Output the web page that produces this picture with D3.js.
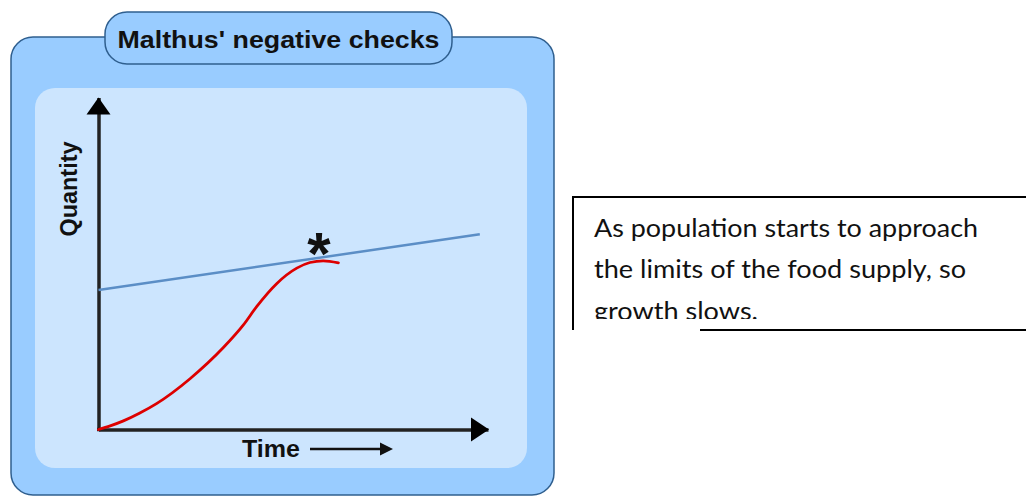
<!DOCTYPE html>
<html>
<head>
<meta charset="utf-8">
<script src="https://cdn.jsdelivr.net/npm/d3@7"></script>
<style>
  html, body { margin: 0; padding: 0; background: #ffffff; }
  svg { display: block; }
</style>
</head>
<body>
<svg id="chart" width="1026" height="497"></svg>
<script>
// ---- data ----
const titleText = "Malthus' negative checks";
const xLabel = "Time";
const yLabel = "Quantity";
const noteLines = ["As population starts to approach", "the limits of the food supply, so", "growth slows."];
const populationTime = [0, 3.0, 6.4, 10.5, 14.9, 23.5, 32.0, 37.2, 40.6, 45.8, 50.9, 54.3, 57.7, 61.6];
const populationValues = [0, 1.1, 2.6, 4.9, 7.8, 15.3, 24.6, 31.5, 37.0, 44.0, 48.6, 50.3, 50.8, 50.2];
const foodTime = [0, 97.9];
const foodValues = [42.0, 58.8];
const markerTime = [56.6];
const markerValue = [55.0];

const svg = d3.select("#chart");

// panels
svg.append("rect").attr("x", 11).attr("y", 37).attr("width", 543).attr("height", 458)
  .attr("rx", 22).attr("fill", "#99ccff").attr("stroke", "#2f5f8f").attr("stroke-width", 1.5);
svg.append("rect").attr("x", 35).attr("y", 88).attr("width", 492).attr("height", 380)
  .attr("rx", 20).attr("fill", "#cce5fe");

// title box
svg.append("rect").attr("x", 105).attr("y", 12).attr("width", 347).attr("height", 52)
  .attr("rx", 22).attr("fill", "#99ccff").attr("stroke", "#2f5f8f").attr("stroke-width", 1.5);
svg.append("text").attr("x", 278.5).attr("y", 48).attr("text-anchor", "middle")
  .attr("font-family", "Liberation Sans, Arial, sans-serif").attr("font-weight", "bold")
  .attr("font-size", 24).attr("fill", "#111")
  .attr("textLength", 322).attr("lengthAdjust", "spacingAndGlyphs")
  .text(titleText);

// scales
const x = d3.scaleLinear().domain([0, 100]).range([98.5, 488]);
const y = d3.scaleLinear().domain([0, 100]).range([429.5, 97.5]);

// axes via d3 axis generators (domain line only)
const xAxis = svg.append("g").attr("transform", `translate(0,${y(0)})`)
  .call(d3.axisBottom(x).tickValues([]).tickSizeOuter(0));
const yAxis = svg.append("g").attr("transform", `translate(${x(0)},0)`)
  .call(d3.axisLeft(y).tickValues([]).tickSizeOuter(0));
[xAxis, yAxis].forEach(g => g.select(".domain").attr("stroke", "#222").attr("stroke-width", 3.5));
svg.append("line").attr("x1", x(0) - 1.5).attr("x2", x(0) + 2).attr("y1", y(0)).attr("y2", y(0))
  .attr("stroke", "#222").attr("stroke-width", 3.5);

// arrowheads
const yTip = y(100);
svg.append("path").attr("d", `M${x(0)},${yTip} L${x(0) - 12},${yTip + 17} L${x(0) + 12},${yTip + 17} Z`).attr("fill", "#000");
const xTip = x(100) + 1;
svg.append("path").attr("d", `M${xTip},${y(0)} L${xTip - 18},${y(0) - 12} L${xTip - 18},${y(0) + 12} Z`).attr("fill", "#000");

// axis labels
svg.append("text").attr("x", 242).attr("y", 457)
  .attr("font-family", "Liberation Sans, Arial, sans-serif").attr("font-weight", "bold")
  .attr("font-size", 23).attr("fill", "#111")
  .attr("textLength", 58).attr("lengthAdjust", "spacingAndGlyphs").text(xLabel);
svg.append("line").attr("x1", 310).attr("x2", 382).attr("y1", 449).attr("y2", 449)
  .attr("stroke", "#111").attr("stroke-width", 2.5);
svg.append("path").attr("d", "M393,449 L380,442.5 L380,455.5 Z").attr("fill", "#111");

svg.append("text").attr("transform", "translate(77,189) rotate(-90)").attr("text-anchor", "middle")
  .attr("font-family", "Liberation Sans, Arial, sans-serif").attr("font-weight", "bold")
  .attr("font-size", 23).attr("fill", "#111")
  .attr("textLength", 95).attr("lengthAdjust", "spacingAndGlyphs").text(yLabel);

// food line
const line = d3.line().x(d => x(d[0])).y(d => y(d[1]));
svg.append("path").datum(d3.zip(foodTime, foodValues)).attr("d", line)
  .attr("fill", "none").attr("stroke", "#5b8ec6").attr("stroke-width", 2.5);

// population curve
const curve = d3.line().x(d => x(d[0])).y(d => y(d[1])).curve(d3.curveMonotoneX);
svg.append("path").datum(d3.zip(populationTime, populationValues)).attr("d", curve)
  .attr("fill", "none").attr("stroke", "#dd0000").attr("stroke-width", 2.8).attr("stroke-linecap", "round");

// asterisk
svg.selectAll("text.mark").data(d3.zip(markerTime, markerValue)).join("text").attr("class", "mark")
  .attr("x", d => x(d[0])).attr("y", d => y(d[1]) + 27).attr("text-anchor", "middle")
  .attr("font-family", "Liberation Sans, Arial, sans-serif").attr("font-weight", "bold")
  .attr("font-size", 60).attr("fill", "#111").text("*");

// note box
const clip = svg.append("clipPath").attr("id", "noteclip");
clip.append("rect").attr("x", 574).attr("y", 198).attr("width", 452).attr("height", 121);
svg.append("line").attr("x1", 573).attr("x2", 1026).attr("y1", 197).attr("y2", 197).attr("stroke", "#000").attr("stroke-width", 2);
svg.append("line").attr("x1", 573).attr("x2", 573).attr("y1", 196).attr("y2", 330).attr("stroke", "#000").attr("stroke-width", 2);
svg.append("line").attr("x1", 700).attr("x2", 1026).attr("y1", 330).attr("y2", 330).attr("stroke", "#000").attr("stroke-width", 2);
const noteW = [384, 372, 164];
svg.append("g").attr("clip-path", "url(#noteclip)").selectAll("text").data(noteLines).join("text")
  .attr("x", 594).attr("y", (d, i) => 236.5 + i * 41.5)
  .attr("font-family", "Lato, 'Open Sans', sans-serif").attr("font-size", 25).attr("fill", "#111")
  .attr("textLength", (d, i) => noteW[i]).attr("lengthAdjust", "spacingAndGlyphs")
  .text(d => d);
</script>
</body>
</html>
